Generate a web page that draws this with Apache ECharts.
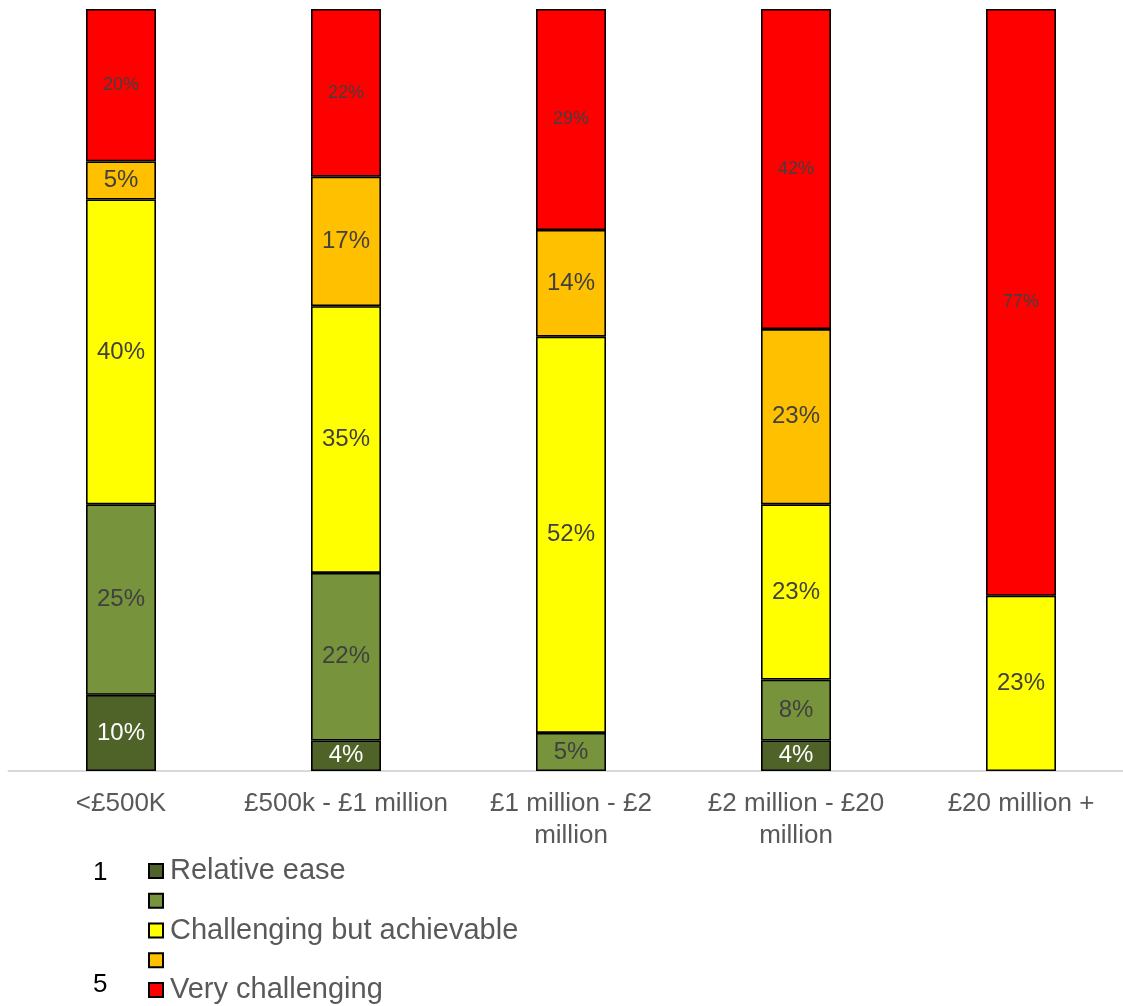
<!DOCTYPE html>
<html>
<head>
<meta charset="utf-8">
<style>
  html, body { margin: 0; padding: 0; background: #fff; }
  #chart { width: 1123px; height: 1006px; }
</style>
<script src="https://cdn.jsdelivr.net/npm/echarts@6/dist/echarts.min.js"></script>
</head>
<body>
<div id="chart"></div>
<script>
// Turnover bands (tick labels, wrapped where the band name is long)
const categories = ['<£500K', '£500k - £1 million', '£1 million - £2\nmillion', '£2 million - £20\nmillion', '£20 million +'];

// Share of respondents (%) per difficulty level, 1 = relative ease ... 5 = very challenging
const level1 = [10, 4, null, 4, null];
const level2 = [25, 22, 5, 8, null];
const level3 = [40, 35, 52, 23, 23];
const level4 = [5, 17, 14, 23, null];
const level5 = [20, 22, 29, 42, 77];

const seriesNames = ['Relative ease', 'Level 2', 'Challenging but achievable', 'Level 4', 'Very challenging'];
const legendText = {
  'Relative ease': 'Relative ease',
  'Level 2': '\u00a0',
  'Challenging but achievable': 'Challenging but achievable',
  'Level 4': '\u00a0',
  'Very challenging': 'Very challenging'
};
const scaleEnds = ['1', '5'];

const FONT = "'Liberation Sans', Arial, sans-serif";
const colors = ['#4f6228', '#77933c', '#ffff00', '#ffc000', '#ff0000'];
const values = [level1, level2, level3, level4, level5];
const labelColors = ['#ffffff', '#404040', '#404040', '#404040', '#404040'];
const labelSizes = [24, 24, 24, 24, 18];

const chart = echarts.init(document.getElementById('chart'), null, { renderer: 'canvas' });

const series = values.map((data, i) => ({
  name: seriesNames[i],
  type: 'bar',
  stack: 'total',
  barWidth: 70,
  data: data,
  itemStyle: { color: colors[i], borderColor: '#000000', borderWidth: 1.6 },
  label: {
    show: true,
    position: 'inside',
    formatter: p => (p.value == null ? '' : p.value + '%'),
    color: labelColors[i],
    fontFamily: FONT,
    fontSize: labelSizes[i]
  },
  emphasis: { disabled: true },
  animation: false
}));

chart.setOption({
  animation: false,
  backgroundColor: '#ffffff',
  grid: { left: 8.5, right: -10.5, top: 9, bottom: 235, containLabel: false, outerBoundsMode: 'none' },
  xAxis: {
    type: 'category',
    data: categories,
    axisLine: { show: true, lineStyle: { color: '#d9d9d9', width: 2 } },
    axisTick: { show: false },
    axisLabel: {
      color: '#595959',
      fontFamily: FONT,
      fontSize: 26,
      lineHeight: 32,
      margin: 17,
      interval: 0,
      hideOverlap: false
    }
  },
  yAxis: {
    type: 'value',
    min: 0,
    max: 100,
    show: false
  },
  legend: {
    orient: 'vertical',
    left: 148,
    top: 856,
    padding: 0,
    itemWidth: 14,
    itemHeight: 14,
    itemGap: 0,
    icon: 'rect',
    data: seriesNames,
    formatter: name => legendText[name],
    textStyle: {
      color: '#595959',
      fontFamily: FONT,
      fontSize: 29,
      lineHeight: 29.8,
      padding: [0, 0, 0, 2]
    },
    selectedMode: false
  },
  graphic: [
    {
      type: 'text',
      left: 93,
      top: 860,
      style: { text: scaleEnds[0], fill: '#000000', font: '26px ' + FONT }
    },
    {
      type: 'text',
      left: 93,
      top: 972,
      style: { text: scaleEnds[1], fill: '#000000', font: '26px ' + FONT }
    }
  ],
  series: series
});
</script>
</body>
</html>
